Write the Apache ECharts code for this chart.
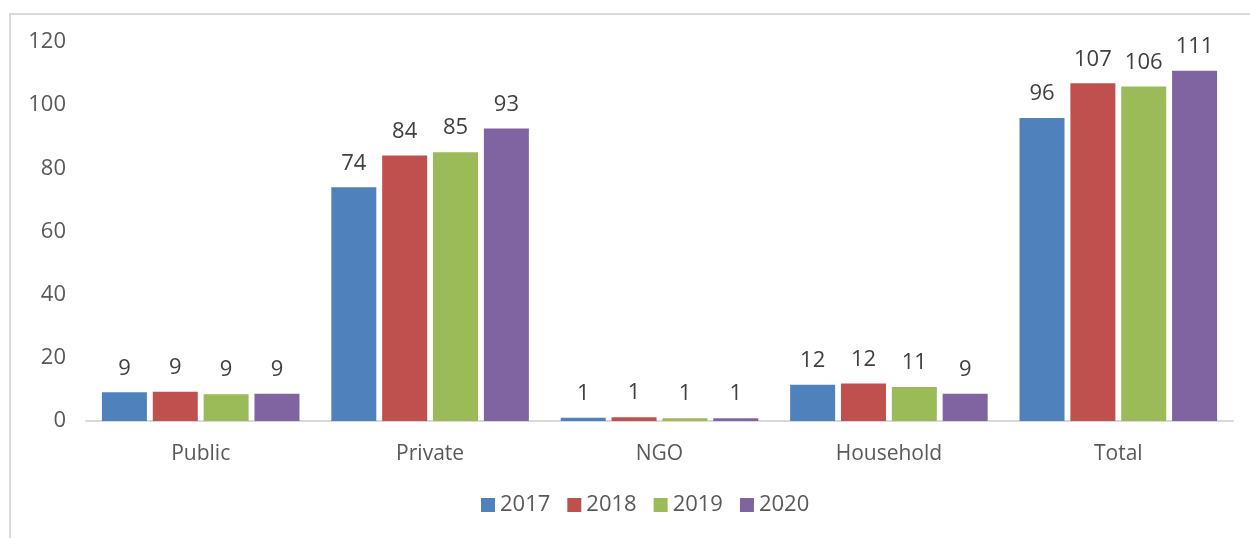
<!DOCTYPE html>
<html>
<head>
<meta charset="utf-8">
<script src="https://cdn.jsdelivr.net/npm/echarts@6/dist/echarts.min.js"></script>
<style>
  html, body { margin: 0; padding: 0; background: #ffffff; }
  #chart { width: 1250px; height: 538px; }
</style>
</head>
<body>
<div id="chart"></div>
<script>
// Sectors on the x axis
const categories = ['Public', 'Private', 'NGO', 'Household', 'Total'];

// Values per year, one array per series
const years = ['2017', '2018', '2019', '2020'];
const values2017 = [9.1, 74.0, 1.0, 11.5, 95.9];
const values2018 = [9.3, 84.1, 1.2, 11.9, 106.9];
const values2019 = [8.5, 85.1, 0.9, 10.8, 105.9];
const values2020 = [8.6, 92.6, 0.9, 8.6, 110.9];

// Y axis ticks
const yMin = 0;
const yMax = 120;
const yStep = 20;

const colors = ['#4F81BD', '#C0504D', '#9BBB59', '#8064A2'];
const seriesValues = [values2017, values2018, values2019, values2020];
const FONT = 'Open Sans';

const chart = echarts.init(document.getElementById('chart'), null, { renderer: 'canvas' });

const series = years.map((y, i) => ({
  name: y,
  type: 'bar',
  data: seriesValues[i],
  barWidth: 45,
  barGap: '13%',
  itemStyle: { color: colors[i] },
  label: {
    show: true,
    position: 'top',
    distance: 13,
    color: '#404040',
    fontFamily: FONT,
    fontSize: 22,
    formatter: p => String(Math.round(p.value))
  }
}));

chart.setOption({
  animation: false,
  textStyle: { fontFamily: FONT },
  graphic: [{
    type: 'rect',
    shape: { x: 10, y: 14, width: 1300, height: 600 },
    style: { fill: 'none', stroke: '#d9d9d9', lineWidth: 2 },
    silent: true,
    z: -1
  }],
  legend: {
    data: years,
    bottom: 17,
    left: 476,
    itemWidth: 14,
    itemHeight: 14,
    itemGap: 17,
    icon: 'rect',
    textStyle: { color: '#595959', fontSize: 22, fontFamily: FONT, padding: [0, 0, 0, 0] }
  },
  grid: { left: 86, right: 17, top: 42, bottom: 117, containLabel: false },
  xAxis: {
    type: 'category',
    data: categories,
    axisTick: { show: false },
    axisLine: { lineStyle: { color: '#d9d9d9', width: 2 } },
    axisLabel: { color: '#595959', fontSize: 21, fontFamily: FONT, margin: 23 }
  },
  yAxis: {
    type: 'value',
    min: yMin,
    max: yMax,
    interval: yStep,
    splitLine: { show: false },
    axisLine: { show: false },
    axisTick: { show: false },
    axisLabel: { color: '#595959', fontSize: 22, fontFamily: FONT, margin: 20 }
  },
  series: series
});
</script>
</body>
</html>
